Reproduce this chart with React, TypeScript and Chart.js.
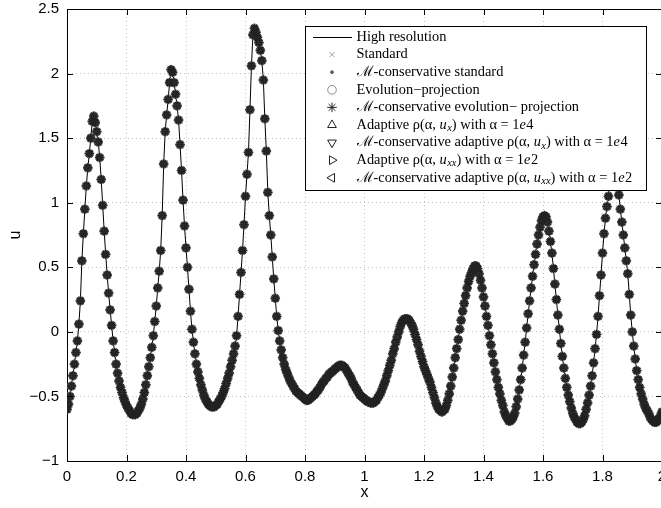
import React, { useEffect, useRef } from "react";
import { Chart, registerables } from "chart.js";

Chart.register(...registerables);

// grid of the solution: x = X_START + i * X_STEP
const X_START = 0;
const X_STEP = 0.005;

// u(x), one value per grid point (0 .. 2)
const U_VALUES = [
  -0.60, -0.56, -0.50, -0.42, -0.34, -0.25, -0.16, -0.07, 0.06, 0.24,
  0.55, 0.76, 0.95, 1.13, 1.27, 1.38, 1.50, 1.63, 1.67, 1.62,
  1.55, 1.47, 1.35, 1.18, 0.98, 0.78, 0.60, 0.44, 0.30, 0.17,
  0.05, -0.07, -0.16, -0.25, -0.32, -0.38, -0.43, -0.47, -0.51, -0.54,
  -0.57, -0.59, -0.61, -0.63, -0.64, -0.64, -0.64, -0.63, -0.61, -0.59,
  -0.56, -0.52, -0.47, -0.41, -0.34, -0.27, -0.20, -0.12, -0.03, 0.08,
  0.20, 0.34, 0.47, 0.63, 0.90, 1.30, 1.55, 1.68, 1.80, 1.93,
  2.03, 2.01, 1.93, 1.84, 1.75, 1.64, 1.45, 1.25, 1.02, 0.82,
  0.65, 0.50, 0.33, 0.16, 0.02, -0.08, -0.17, -0.25, -0.31, -0.36,
  -0.41, -0.45, -0.49, -0.52, -0.54, -0.56, -0.57, -0.58, -0.58, -0.58,
  -0.57, -0.56, -0.54, -0.52, -0.50, -0.47, -0.44, -0.40, -0.36, -0.32,
  -0.27, -0.22, -0.17, -0.11, -0.03, 0.12, 0.29, 0.46, 0.63, 0.83,
  1.05, 1.22, 1.39, 1.72, 2.06, 2.30, 2.35, 2.32, 2.28, 2.24,
  2.18, 2.10, 1.95, 1.65, 1.40, 1.08, 0.90, 0.75, 0.58, 0.41,
  0.26, 0.12, 0.01, -0.07, -0.14, -0.20, -0.25, -0.29, -0.32, -0.35,
  -0.38, -0.40, -0.42, -0.44, -0.46, -0.47, -0.48, -0.49, -0.50, -0.51,
  -0.52, -0.53, -0.53, -0.52, -0.51, -0.50, -0.49, -0.48, -0.46, -0.45,
  -0.43, -0.41, -0.39, -0.38, -0.36, -0.35, -0.33, -0.32, -0.31, -0.30,
  -0.29, -0.28, -0.27, -0.26, -0.26, -0.26, -0.27, -0.28, -0.30, -0.32,
  -0.34, -0.36, -0.39, -0.41, -0.43, -0.45, -0.47, -0.49, -0.50, -0.51,
  -0.52, -0.53, -0.54, -0.54, -0.55, -0.55, -0.55, -0.54, -0.53, -0.51,
  -0.49, -0.47, -0.44, -0.41, -0.38, -0.34, -0.30, -0.26, -0.22, -0.17,
  -0.13, -0.08, -0.04, 0.00, 0.04, 0.07, 0.09, 0.10, 0.10, 0.10,
  0.09, 0.07, 0.05, 0.02, -0.02, -0.06, -0.10, -0.15, -0.19, -0.23,
  -0.27, -0.30, -0.33, -0.36, -0.39, -0.43, -0.47, -0.51, -0.55, -0.58,
  -0.60, -0.61, -0.62, -0.61, -0.60, -0.57, -0.53, -0.48, -0.42, -0.35,
  -0.28, -0.20, -0.13, -0.06, 0.02, 0.09, 0.16, 0.22, 0.28, 0.34,
  0.39, 0.43, 0.46, 0.49, 0.51, 0.51, 0.49, 0.45, 0.40, 0.34,
  0.27, 0.20, 0.12, 0.05, -0.03, -0.10, -0.17, -0.24, -0.31, -0.37,
  -0.43, -0.48, -0.53, -0.57, -0.62, -0.65, -0.67, -0.69, -0.69, -0.68,
  -0.66, -0.63, -0.58, -0.52, -0.45, -0.37, -0.28, -0.18, -0.08, 0.03,
  0.14, 0.24, 0.34, 0.43, 0.52, 0.60, 0.68, 0.75, 0.81, 0.86,
  0.89, 0.90, 0.89, 0.85, 0.78, 0.70, 0.61, 0.49, 0.37, 0.25,
  0.13, 0.02, -0.09, -0.19, -0.28, -0.36, -0.43, -0.49, -0.54, -0.59,
  -0.63, -0.66, -0.68, -0.70, -0.71, -0.71, -0.70, -0.68, -0.65, -0.60,
  -0.55, -0.49, -0.42, -0.34, -0.24, -0.13, -0.02, 0.12, 0.28, 0.44,
  0.61, 0.76, 0.88, 0.97, 1.05, 1.14, 1.22, 1.27, 1.28, 1.24,
  1.16, 1.06, 0.95, 0.85, 0.75, 0.65, 0.55, 0.45, 0.29, 0.13,
  0.00, -0.11, -0.21, -0.30, -0.37, -0.43, -0.48, -0.52, -0.56, -0.59,
  -0.61, -0.63, -0.66, -0.68, -0.69, -0.70, -0.70, -0.69, -0.67, -0.65,
  -0.62,
];

const X_TICKS = [0, 0.2, 0.4, 0.6, 0.8, 1, 1.2, 1.4, 1.6, 1.8, 2];
const Y_TICKS = [-1, -0.5, 0, 0.5, 1, 1.5, 2, 2.5];

const X_TITLE = "x";
const Y_TITLE = "u";

// $..$ = italic, _{..} = italic subscript
const SERIES_LABELS = [
  "High resolution",
  "Standard",
  "ℳ-conservative standard",
  "Evolution−projection",
  "ℳ-conservative evolution− projection",
  "Adaptive ρ(α, $u$_{x}) with α = 1$e$4",
  "ℳ-conservative adaptive ρ(α, $u$_{x}) with α = 1$e$4",
  "Adaptive ρ(α, $u$_{xx}) with α = 1$e$2",
  "ℳ-conservative adaptive ρ(α, $u$_{xx}) with α = 1$e$2",
];

// marker styles for the 8 marker series (index 1..8)
const MARKERS = [
  { style: "crossRot", rot: 0, r: 3.6, color: "#a0a0a0", fill: "rgba(0,0,0,0)" },
  { style: "circle", rot: 0, r: 1.4, color: "#5a5a5a", fill: "#5a5a5a" },
  { style: "circle", rot: 0, r: 4.3, color: "#8c8c8c", fill: "rgba(0,0,0,0)" },
  { style: "star", rot: 0, r: 4.8, color: "#222222", fill: "rgba(0,0,0,0)" },
  { style: "triangle", rot: 0, r: 4.2, color: "#222222", fill: "rgba(0,0,0,0)" },
  { style: "triangle", rot: 180, r: 4.2, color: "#222222", fill: "rgba(0,0,0,0)" },
  { style: "triangle", rot: 90, r: 4.2, color: "#222222", fill: "rgba(0,0,0,0)" },
  { style: "triangle", rot: -90, r: 4.2, color: "#222222", fill: "rgba(0,0,0,0)" },
];

const TICK_FONT = '"Liberation Sans", Arial, sans-serif';
const LEGEND_FONT = '"Liberation Serif", "DejaVu Serif", serif';

function parseRich(s: string) {
  const segs: { t: string; it: boolean; sub: boolean }[] = [];
  let buf = "";
  let i = 0;
  const flush = () => {
    if (buf) segs.push({ t: buf, it: false, sub: false });
    buf = "";
  };
  while (i < s.length) {
    if (s[i] === "_" && s[i + 1] === "{") {
      flush();
      const j = s.indexOf("}", i);
      segs.push({ t: s.slice(i + 2, j), it: true, sub: true });
      i = j + 1;
    } else if (s[i] === "$") {
      flush();
      const j = s.indexOf("$", i + 1);
      segs.push({ t: s.slice(i + 1, j), it: true, sub: false });
      i = j + 1;
    } else {
      buf += s[i];
      i++;
    }
  }
  flush();
  return segs;
}

function drawSymbol(ctx: CanvasRenderingContext2D, m: any, x: number, y: number) {
  const r = m.r;
  ctx.save();
  ctx.strokeStyle = m.color;
  ctx.fillStyle = m.fill;
  ctx.lineWidth = 1;
  ctx.beginPath();
  if (m.style === "circle") {
    ctx.arc(x, y, r, 0, Math.PI * 2);
    ctx.fill();
    ctx.stroke();
  } else if (m.style === "crossRot") {
    const d = r * Math.SQRT1_2;
    ctx.moveTo(x - d, y - d);
    ctx.lineTo(x + d, y + d);
    ctx.moveTo(x + d, y - d);
    ctx.lineTo(x - d, y + d);
    ctx.stroke();
  } else if (m.style === "star") {
    for (let k = 0; k < 4; k++) {
      const a = (k * Math.PI) / 4;
      ctx.moveTo(x - Math.cos(a) * r, y - Math.sin(a) * r);
      ctx.lineTo(x + Math.cos(a) * r, y + Math.sin(a) * r);
    }
    ctx.stroke();
  } else if (m.style === "triangle") {
    const rad = (m.rot * Math.PI) / 180;
    for (let k = 0; k < 3; k++) {
      const a = rad + (k * 2 * Math.PI) / 3;
      const px = x + Math.sin(a) * r * 1.2;
      const py = y - Math.cos(a) * r * 1.2;
      if (k === 0) ctx.moveTo(px, py);
      else ctx.lineTo(px, py);
    }
    ctx.closePath();
    ctx.stroke();
  }
  ctx.restore();
}

const framePlugin = {
  id: "frameAndLegend",
  afterDraw(chart: any) {
    const ctx: CanvasRenderingContext2D = chart.ctx;
    const { left, right, top, bottom } = chart.chartArea;
    const xs = chart.scales.x;
    const ys = chart.scales.y;
    ctx.save();
    ctx.strokeStyle = "#000";
    ctx.lineWidth = 1;
    ctx.beginPath();
    // top and right frame lines
    ctx.moveTo(left, Math.round(top) + 0.5);
    ctx.lineTo(right, Math.round(top) + 0.5);
    ctx.moveTo(Math.round(right) - 0.5, top);
    ctx.lineTo(Math.round(right) - 0.5, bottom);
    const tl = 6;
    X_TICKS.forEach((v) => {
      const px = Math.round(xs.getPixelForValue(v)) + 0.5;
      ctx.moveTo(px, bottom);
      ctx.lineTo(px, bottom - tl);
      ctx.moveTo(px, top);
      ctx.lineTo(px, top + tl);
    });
    Y_TICKS.forEach((v) => {
      const py = Math.round(ys.getPixelForValue(v)) + 0.5;
      ctx.moveTo(left, py);
      ctx.lineTo(left + tl, py);
      ctx.moveTo(right, py);
      ctx.lineTo(right - tl, py);
    });
    ctx.stroke();

    // legend box
    const bx = 305.5, by = 26.5, bw = 341, bh = 164;
    ctx.fillStyle = "#fff";
    ctx.fillRect(bx, by, bw, bh);
    ctx.strokeRect(bx, by, bw, bh);
    const rowY0 = 37;
    const rowH = 17.6;
    const textX = 356.5;
    const symX = 332;
    const fs = 14.4;
    chart.data.datasets.forEach((ds: any, i: number) => {
      const y = rowY0 + i * rowH;
      if (i === 0) {
        ctx.beginPath();
        ctx.strokeStyle = "#000";
        ctx.lineWidth = 1;
        ctx.moveTo(313, Math.round(y) + 0.5);
        ctx.lineTo(352, Math.round(y) + 0.5);
        ctx.stroke();
      } else {
        drawSymbol(ctx, MARKERS[i - 1], symX, y);
      }
      let x = textX;
      ctx.fillStyle = "#000";
      ctx.textBaseline = "middle";
      ctx.textAlign = "left";
      parseRich(ds.label).forEach((seg) => {
        const size = seg.sub ? fs * 0.72 : fs;
        ctx.font = `${seg.it ? "italic " : ""}${size}px ${LEGEND_FONT}`;
        ctx.fillText(seg.t, x, seg.sub ? y + 3.5 : y);
        x += ctx.measureText(seg.t).width + (seg.it && !seg.sub ? 0.5 : 0);
      });
    });
    ctx.restore();
  },
};

export default function App() {
  const ref = useRef<HTMLCanvasElement>(null);
  useEffect(() => {
    if (!ref.current) return;
    const pts = U_VALUES.map((u, i) => ({ x: X_START + i * X_STEP, y: u }));
    const datasets: any[] = [
      {
        label: SERIES_LABELS[0],
        data: pts,
        showLine: true,
        borderColor: "#000",
        borderWidth: 1,
        pointRadius: 0,
        order: 20,
      },
    ];
    MARKERS.forEach((m, k) => {
      datasets.push({
        label: SERIES_LABELS[k + 1],
        data: pts,
        showLine: false,
        pointStyle: m.style,
        pointRotation: m.rot,
        pointRadius: m.r,
        pointBorderColor: m.color,
        pointBackgroundColor: m.fill,
        pointBorderWidth: 1,
        order: 10 - k,
      });
    });
    const chart = new Chart(ref.current, {
      type: "scatter",
      data: { datasets },
      options: {
        animation: false,
        responsive: false,
        devicePixelRatio: 1,
        layout: { padding: { left: 0, right: 10, top: 9, bottom: 0 } },
        plugins: { legend: { display: false }, tooltip: { enabled: false } },
        scales: {
          x: {
            type: "linear",
            min: 0,
            max: 2,
            afterFit: (s: any) => {
              s.height = 47;
              s.paddingLeft = 0;
              s.paddingRight = 0;
            },
            afterBuildTicks: (s: any) => {
              s.ticks = X_TICKS.map((v) => ({ value: v }));
            },
            ticks: {
              autoSkip: false,
              maxRotation: 0,
              padding: 7,
              color: "#000",
              font: { family: TICK_FONT, size: 15 },
              callback: (v: any) => String(Math.round(Number(v) * 10) / 10),
            },
            grid: { color: "#c4c4c4", lineWidth: 1, drawTicks: false },
            border: { display: true, color: "#000", width: 1, dash: [1, 3] },
            title: {
              display: true,
              text: X_TITLE,
              color: "#000",
              font: { family: TICK_FONT, size: 16 },
              padding: { top: 0, bottom: 6 },
            },
          },
          y: {
            type: "linear",
            min: -1,
            max: 2.5,
            afterFit: (s: any) => {
              s.width = 67;
              s.paddingTop = 0;
              s.paddingBottom = 0;
            },
            afterBuildTicks: (s: any) => {
              s.ticks = Y_TICKS.map((v) => ({ value: v }));
            },
            ticks: {
              padding: 8,
              color: "#000",
              font: { family: TICK_FONT, size: 15 },
              callback: (v: any) => String(Math.round(Number(v) * 10) / 10).replace("-", "−"),
            },
            grid: { color: "#c4c4c4", lineWidth: 1, drawTicks: false },
            border: { display: true, color: "#000", width: 1, dash: [1, 3] },
            title: {
              display: true,
              text: Y_TITLE,
              color: "#000",
              font: { family: TICK_FONT, size: 16 },
              padding: { top: 6, bottom: 0 },
            },
          },
        },
      },
      plugins: [framePlugin],
    } as any);
    return () => chart.destroy();
  }, []);
  return (
    <div
      style={{
        position: "fixed",
        left: 0,
        top: 0,
        width: 661,
        height: 508,
        overflow: "hidden",
        background: "#fff",
      }}
    >
      <canvas ref={ref} width={672} height={508} style={{ display: "block", width: 672, height: 508 }} />
    </div>
  );
}
